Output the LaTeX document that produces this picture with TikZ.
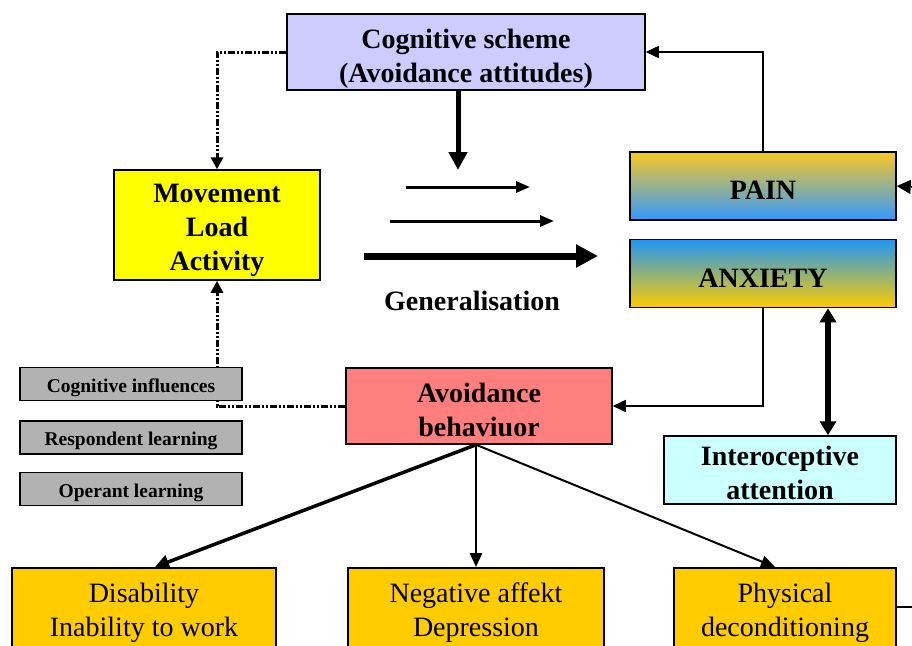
\documentclass[tikz,border=0pt]{standalone}
\usepackage{fontspec}
\setmainfont{Liberation Serif}
\usetikzlibrary{arrows.meta, positioning}
\definecolor{schemeblue}{HTML}{CCCCFF}
\definecolor{loadyellow}{HTML}{FFFF00}
\definecolor{avoidred}{HTML}{FF7F7F}
\definecolor{interocyan}{HTML}{CCFFFF}
\definecolor{factorgray}{HTML}{B2B2B2}
\definecolor{outgold}{HTML}{FFCC00}
\definecolor{paingold}{HTML}{F9C824}
\definecolor{painblue}{HTML}{3399FF}
\definecolor{anxblue}{HTML}{2196F5}

\begin{document}
\begin{tikzpicture}[
  x=1pt, y=1pt,
  font=\fontsize{28}{34}\selectfont,
  box/.style={draw, line width=1.5pt, align=center, inner sep=2pt},
  hbox/.style={box, text height=27pt, text depth=0pt,
               font=\fontsize{28}{34}\selectfont\bfseries},
  twolines/.style={text height=61pt},
  threelines/.style={text height=90pt},
  factor/.style={box, fill=factorgray, minimum width=222pt, minimum height=33pt,
                 text height=21pt, font=\fontsize{19.5}{22}\selectfont\bfseries},
  outbox/.style={box, fill=outgold, anchor=north, minimum height=90pt},
  arr/.style={-{Triangle[length=13pt, width=12pt]}, line width=1.5pt},
  dotarr/.style={-{Triangle[length=12pt, width=12pt]}, line width=3pt,
                 dash pattern=on 7pt off 2pt on 2pt off 2pt on 2pt off 2pt},
  bigarr/.style={-{Triangle[length=18pt, width=18pt]}, line width=5pt},
  node distance=18pt and 20pt]

  \useasboundingbox (0,0) rectangle (912,-645);
  \clip (0,0) rectangle (912,-645);

  % upper part
  \node[hbox, twolines, fill=schemeblue, minimum width=358pt, minimum height=76pt]
    (scheme) at (466,-52) {Cognitive scheme\\(Avoidance attitudes)};
  \node[hbox, threelines, fill=loadyellow, minimum width=206pt, minimum height=110pt]
    (move) at (217,-225) {Movement\\Load\\Activity};
  \node[hbox, top color=paingold, bottom color=painblue, minimum width=266pt,
        minimum height=68pt] (pain) at (763,-186) {PAIN};
  \node[hbox, top color=anxblue, bottom color=outgold, minimum width=266pt,
        minimum height=68pt, below=18pt of pain] (anx) {ANXIETY};

  % middle part
  \node[hbox, twolines, fill=avoidred, minimum width=266pt, minimum height=76pt]
    (avoid) at (479,-406) {Avoidance\\behaviuor};
  \node[hbox, text height=58pt, fill=interocyan, minimum width=232pt, minimum height=68pt]
    (intero) at (780,-470) {Interoceptive\\attention};

  % consequences
  \node[outbox, minimum width=264pt] (disab) at (144,-567) {Disability\\Inability to work};
  \node[outbox, minimum width=256pt] (neg) at (476,-567) {Negative affekt\\Depression};
  \node[outbox, minimum width=222pt] (phys) at (785,-567) {Physical\\deconditioning};

  % generalisation
  \coordinate (schemetip) at (458,-170);
  \coordinate (g1a) at (406,-187); \coordinate (g1b) at (530,-187);
  \coordinate (g2a) at (390,-221); \coordinate (g2b) at (554,-221);
  \coordinate (g3a) at (364,-256); \coordinate (g3b) at (598,-256);
  \node[font=\fontsize{28}{34}\selectfont\bfseries] (gen) at (472,-301) {Generalisation};

  % free ends at the page edge
  \coordinate (painin) at (912,-187);
  \coordinate (physout) at (912,-607);

  % flows
  \draw[dotarr] (scheme.west) -| (move.north);
  \draw[dotarr] (avoid.west) -| (move.south);
  \draw[bigarr] (scheme.south -| schemetip) -- (schemetip);
  \draw[-{Triangle[length=14pt, width=11pt]}, line width=3pt] (g1a) -- (g1b);
  \draw[-{Triangle[length=14pt, width=11pt]}, line width=3pt] (g2a) -- (g2b);
  \draw[-{Triangle[length=22pt, width=22pt]}, line width=7pt] (g3a) -- (g3b);
  \draw[arr] (pain.north) |- (scheme.east);
  \draw[-{Triangle[length=14pt, width=14pt]}, line width=1.5pt] (painin) -- (pain.east);
  \draw[arr] (anx.south) |- (avoid.east);
  \draw[{Triangle[length=14pt, width=16pt]}-{Triangle[length=14pt, width=16pt]}, line width=6pt]
    ([xshift=65pt]anx.south) -- ([xshift=48pt]intero.north);
  \draw[-{Triangle[length=14pt, width=14pt]}, line width=3.5pt]
    ([xshift=-3pt]avoid.south) -- ([xshift=11pt]disab.north);
  \draw[-{Triangle[length=14pt, width=12pt]}, line width=2.5pt]
    ([xshift=-3pt]avoid.south) -- (neg.north);
  \draw[-{Triangle[length=14pt, width=12pt]}, line width=2pt]
    ([xshift=-3pt]avoid.south) -- ([xshift=-10pt]phys.north);
  \draw[line width=1.5pt] (phys.east |- physout) -- (physout);

  % learning factors, on top of the dotted line
  \node[factor] (cog) at (131,-384) {Cognitive influences};
  \node[factor, below=19pt of cog] (resp) {Respondent learning};
  \node[factor, below=17pt of resp] (oper) {Operant learning};
\end{tikzpicture}
\end{document}
